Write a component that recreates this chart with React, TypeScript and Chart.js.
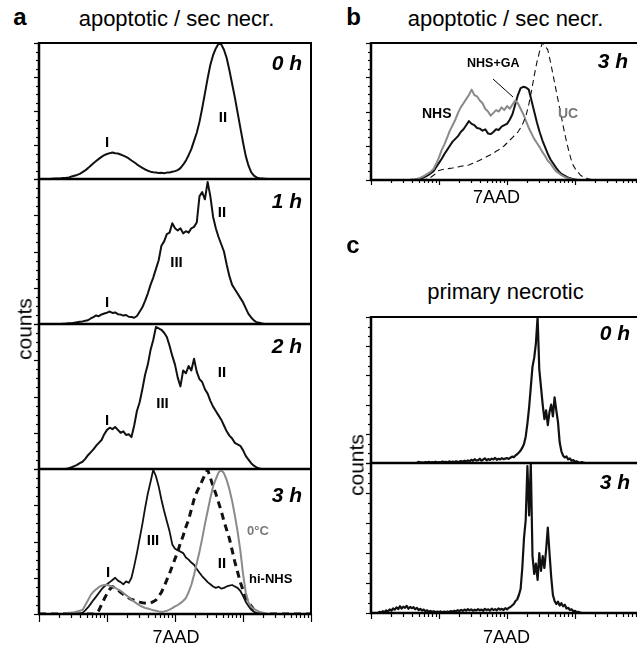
import React, { useEffect, useRef } from 'react';
import { Chart, registerables } from 'chart.js';
Chart.register(...registerables);

// 7AAD fluorescence bins (4 log decades, 1 .. 10^4)
const BINS_AB = Array.from({ length: 101 }, (_, i) => Math.pow(10, i * 0.04));
const BINS_C = Array.from({ length: 161 }, (_, i) => Math.pow(10, i * 0.025));

// Panel a – apoptotic / secondary necrotic (counts in % of full scale)
const A_0H = [
  0, 0, 0, 0, 0, 0.2, 0.3, 0.4, 0.5, 0.7,
  0.9, 1.2, 1.8, 2.4, 3.0, 3.8, 5.0, 6.3, 8.0, 9.8,
  11.6, 13.2, 14.8, 16.3, 17.5, 18.4, 19.0, 19.5, 18.9, 18.7,
  18.0, 17.2, 16.2, 15.1, 13.6, 12.3, 10.8, 9.4, 8.2, 7.0,
  6.1, 5.4, 5.0, 4.7, 4.4, 4.6, 4.3, 4.7, 4.8, 5.3,
  5.8, 6.5, 8.0, 10.5, 13.5, 17.5, 22, 28, 34, 42,
  52, 63, 74, 84, 91, 96, 99.5, 99, 95, 89,
  80, 70, 60, 49, 38, 27, 17, 10, 5, 2.5,
  1.2, 0.6, 0.4, 0.2, 0, 0, 0, 0, 0, 0,
  0, 0, 0, 0, 0, 0, 0, 0, 0, 0, 0,
];
const A_1H = [
  0, 0, 0, 0, 0, 0, 0, 0, 0, 0.2,
  0.3, 0.5, 0.6, 0.9, 1.2, 1.5, 1.8, 2.2, 2.6, 3.8,
  4.8, 5.9, 5.4, 6.6, 7.2, 7.8, 8.6, 7.6, 8.0, 6.8,
  6.5, 5.8, 6.2, 5.0, 4.8, 4.3, 5.5, 8.5, 11.5, 16,
  21, 27, 32, 38, 44, 54, 57, 62, 63, 69.5,
  66, 64.5, 66, 62.5, 64, 63, 66, 67, 70, 88,
  91, 86, 98, 88, 74, 66, 60, 55, 50, 41,
  33, 27, 24, 21, 18, 15, 11, 7, 4.5, 2.5,
  1.2, 0.8, 0.3, 0, 0, 0, 0, 0, 0, 0,
  0, 0, 0, 0, 0, 0, 0, 0, 0, 0, 0,
];
const A_2H = [
  0, 0, 0, 0, 0, 0, 0, 0, 0, 0,
  0.2, 0.5, 1.2, 2.0, 2.8, 4.0, 5.0, 7.0, 9.5, 11.5,
  13.5, 16, 18, 20, 24, 27, 28.5, 27.5, 29, 27,
  25, 26, 23.5, 24, 22, 30, 40, 46, 55, 65,
  72, 82, 89, 98, 97, 96, 94, 91, 85, 78,
  72, 63, 57, 68, 66, 71, 68, 76, 67, 62,
  60, 55, 52, 47, 43, 40, 37, 34, 30, 26,
  23, 21, 18, 17, 16, 13, 9, 6.5, 4, 2.3,
  1.0, 0.4, 0, 0, 0, 0, 0, 0, 0, 0,
  0, 0, 0, 0, 0, 0, 0, 0, 0, 0, 0,
];
const A_3H_NHS = [
  0, 0, 0, 0, 0, 0, 0, 0, 0, 0,
  0, 0, 0, 0, 0, 0.3, 0.8, 2.5, 4.5, 7,
  9.6, 12, 14.5, 17, 19, 20.5, 22, 23.5, 25, 23,
  22, 20.5, 22.5, 21.5, 25, 33, 42, 52, 62, 73,
  83, 91, 99.5, 95, 88, 79, 71, 64, 57, 48,
  45, 44, 43, 42, 39, 37.5, 35.5, 34, 31, 28.5,
  26, 24, 22, 20.5, 19, 18, 18.8, 17.5, 18, 19,
  19.5, 20, 19, 18, 16, 12.5, 8.5, 5.5, 3.0, 1.5,
  0.8, 0.4, 0, 0, 0, 0, 0, 0, 0, 0,
  0, 0, 0, 0, 0, 0, 0, 0, 0, 0, 0,
];
const A_3H_HI = [
  0, 0, 0, 0, 0, 0, 0, 0, 0, 0,
  0, 0, 0, 0, 0, 0, 0, 0, 0, 0,
  0, 0.5, 2.5, 6.5, 10.5, 14, 17, 19, 18, 16.5,
  15, 13.5, 12, 11, 10, 9.5, 8.8, 8.2, 7.8, 7.5,
  7.4, 7.6, 8.5, 9.6, 12, 15, 19, 23.5, 28, 33,
  38, 43, 49, 54, 60, 65, 72, 79, 84, 88,
  92, 96, 99.5, 94, 88, 83, 77, 71, 64, 58,
  52, 44, 36, 29, 22, 16.5, 11.5, 8, 5.5, 3,
  1.6, 0.6, 0, 0, 0, 0, 0, 0, 0, 0,
  0, 0, 0, 0, 0, 0, 0, 0, 0, 0, 0,
];
const A_3H_COLD = [
  0, 0, 0, 0, 0, 0, 0, 0, 0, 0,
  0.5, 0.8, 1.0, 1.3, 1.7, 2.2, 2.8, 6, 9.5, 13,
  15.4, 17, 18.5, 19.5, 20, 20.2, 19.5, 19, 18, 17,
  16, 14.5, 13, 11.5, 9.8, 8.5, 7.2, 6, 5, 4.2,
  3.8, 3.2, 2.6, 2.2, 1.8, 1.6, 1.8, 2.2, 3.0, 4.0,
  5.2, 6.2, 7.5, 9, 11, 15, 20, 27, 35, 43,
  52, 62, 71, 80, 88, 93, 97.5, 99.5, 97, 92.5,
  86, 78, 68, 57, 44, 28, 15, 8, 5, 3.5,
  2.5, 1.6, 1.0, 0.5, 0.2, 0, 0, 0, 0, 0,
  0, 0, 0, 0, 0, 0, 0, 0, 0, 0, 0,
];

// Panel b – 3 h, NHS / NHS+GA / UC
const B_NHS = [
  0, 0, 0, 0, 0, 0, 0, 0, 0, 0,
  0, 0, 0, 0, 0, 0.3, 0.6, 1.0, 1.5, 2.5,
  3.5, 4.8, 6.2, 8, 12, 16.5, 22, 26, 31, 36,
  40, 44, 49, 53, 56, 59, 62, 66, 62, 61,
  58, 56, 52, 50, 47, 49, 51, 50, 53, 51,
  54, 52, 55, 58, 56, 52, 48, 43, 38, 34,
  30, 27, 24, 20.5, 17.5, 14, 12, 9, 6.5, 5,
  3.5, 2.4, 1.5, 0.9, 0.4, 0, 0, 0, 0, 0,
  0, 0, 0, 0, 0, 0, 0, 0, 0, 0,
  0, 0, 0, 0, 0, 0, 0, 0, 0, 0, 0,
];
const B_NHS_GA = [
  0, 0, 0, 0, 0, 0, 0, 0, 0, 0,
  0, 0, 0, 0, 0, 0, 0, 0.3, 0.8, 1.5,
  2.5, 3.5, 5, 6.5, 9.5, 12.5, 15.5, 19, 22, 25,
  28, 30, 32, 35, 37, 40, 43, 41, 40, 38,
  37.5, 36, 37, 34, 33.5, 35, 37, 36.5, 39, 40,
  41, 44, 48, 55, 62, 67, 68, 67.5, 66, 58,
  50, 42, 35, 29, 24, 19, 15, 12, 9, 6.5,
  4.5, 3.3, 2.2, 1.4, 0.8, 0.3, 0, 0, 0, 0,
  0, 0, 0, 0, 0, 0, 0, 0, 0, 0,
  0, 0, 0, 0, 0, 0, 0, 0, 0, 0, 0,
];
const B_UC = [
  0, 0, 0, 0, 0, 0, 0, 0, 0, 0,
  0, 0, 0, 0, 0, 0, 0, 0, 0, 0,
  0.3, 1, 2, 3.5, 5, 7, 7.5, 8, 8.2, 8.5,
  8.8, 9.2, 9.5, 10, 10.3, 10.6, 11, 11.8, 12.5, 13.5,
  14.5, 15.5, 16.5, 17.5, 18.5, 19.5, 21, 22, 23.5, 25,
  27, 29, 31, 33, 35, 38, 42, 47, 55, 65,
  76, 86, 94, 100, 98, 95, 86, 76, 66, 56,
  46, 36, 27, 19, 12, 8.5, 6, 3.5, 2.4, 1.5,
  0.8, 0.3, 0, 0, 0, 0, 0, 0, 0, 0,
  0, 0, 0, 0, 0, 0, 0, 0, 0, 0, 0,
];

// Panel c – primary necrotic
const C_0H = [
  0, 0, 0, 0, 0, 0, 0, 0, 0, 0,
  0, 0, 0, 0, 0, 0, 0, 0, 0, 0,
  0, 0, 0, 0, 0, 0, 0, 0, 0.8, 0.3,
  0.5, 0.2, 0.6, 0.4, 0.8, 0.3, 0.6, 0.5, 0.9, 0.4,
  0.7, 0.5, 1.0, 0.6, 0.8, 0.5, 1.1, 0.7, 0.9, 0.6,
  1.2, 0.8, 1.0, 1.4, 0.9, 1.6, 1.1, 1.8, 1.2, 2.2,
  1.5, 2.6, 1.7, 2.0, 2.9, 1.6, 2.4, 3.2, 1.8, 2.7,
  2.1, 3.0, 2.4, 3.5, 2.2, 2.9, 2.5, 3.3, 2.6, 3.0,
  3.4, 2.8, 3.6, 4.4, 4.0, 5.2, 6.0, 7.2, 8.5, 10.5,
  13, 18, 27, 38, 52, 66, 72, 82, 100, 64,
  52, 40, 30, 36, 26, 35, 40, 32, 45, 36,
  28, 14, 8, 5, 3.8, 4.5, 2.5, 3.2, 1.5, 2.0,
  0.8, 1.2, 0.5, 0.3, 0.6, 0.2, 0, 0, 0, 0,
  0, 0, 0, 0, 0, 0, 0, 0, 0, 0,
  0, 0, 0, 0, 0, 0, 0, 0, 0, 0,
  0, 0, 0, 0, 0, 0, 0, 0, 0, 0,
  0,
];
const C_3H = [
  0, 0, 0, 0, 0, 0.8, 0.3, 1.2, 0.6, 1.8,
  1.0, 2.4, 1.5, 3.0, 2.2, 3.8, 2.6, 4.5, 3.0, 4.2,
  3.4, 4.8, 2.8, 4.0, 3.2, 3.9, 2.5, 3.4, 2.0, 2.8,
  1.6, 2.3, 1.2, 1.8, 0.9, 1.4, 0.8, 1.2, 0.6, 1.0,
  0.7, 1.1, 0.5, 0.9, 0.6, 1.0, 0.7, 1.3, 0.8, 1.5,
  1.1, 1.9, 1.2, 2.1, 1.4, 2.3, 1.6, 2.6, 1.8, 2.4,
  1.5, 2.2, 1.7, 2.6, 1.8, 2.3, 1.5, 2.8, 1.9, 2.5,
  1.6, 2.9, 2.0, 2.6, 1.8, 3.0, 2.2, 2.8, 2.0, 3.2,
  2.4, 3.4, 4.0, 5.0, 6, 8, 9, 12, 16, 30,
  50, 62, 98, 65, 100, 38, 26, 33, 22, 40,
  28, 38, 30, 42, 57, 40, 24, 12, 8, 6,
  7.5, 5, 6.5, 4.5, 5.5, 3, 3.5, 2, 2.5, 1.2,
  1.5, 0.6, 0.8, 0.3, 0, 0, 0, 0, 0, 0,
  0, 0, 0, 0, 0, 0, 0, 0, 0, 0,
  0, 0, 0, 0, 0, 0, 0, 0, 0, 0,
  0, 0, 0, 0, 0, 0, 0, 0, 0, 0,
  0,
];

const FONT = '"Liberation Sans", Arial, Helvetica, sans-serif';
const PL = 8, PR = 2, PT = 2, PB = 10;

const framePlugin = {
  id: 'frame',
  afterDraw(chart: any, _a: any, o: any) {
    const { ctx, chartArea } = chart;
    const { left, right, top, bottom } = chartArea;
    const ys = chart.scales.y;
    const xs = chart.scales.x;
    ctx.save();
    ctx.strokeStyle = '#000';
    ctx.lineWidth = 1.2;
    for (let j = 0; j <= o.yDiv; j++) {
      const v = (j * 100) / o.yDiv;
      const py = Math.round(ys.getPixelForValue(v)) + 0.5;
      const len = j % o.yPer === 0 ? o.yMaj : o.yMin;
      ctx.beginPath();
      ctx.moveTo(left - len, py);
      ctx.lineTo(left, py);
      ctx.stroke();
    }
    if (o.xMaj) {
      for (let k = 0; k <= 4; k++) {
        for (let m = 1; m <= 9; m++) {
          if (k === 4 && m > 1) break;
          const v = m * Math.pow(10, k);
          const px = Math.round(xs.getPixelForValue(v)) + 0.5;
          const len = m === 1 ? o.xMaj : o.xMin;
          ctx.beginPath();
          ctx.moveTo(px, bottom);
          ctx.lineTo(px, bottom + len);
          ctx.stroke();
        }
      }
    }
    ctx.lineWidth = 2;
    ctx.strokeRect(left, top, right - left, bottom - top);
    ctx.lineWidth = 2.5;
    ctx.beginPath();
    ctx.moveTo(left, top - 1);
    ctx.lineTo(left, bottom + 1);
    ctx.moveTo(left - 1, bottom);
    ctx.lineTo(right + 1, bottom);
    ctx.stroke();
    ctx.restore();
  },
};

type Series = { values: number[]; color: string; width: number; dash?: number[] };
type PanelProps = {
  left: number; top: number; width: number; height: number;
  bins: number[]; series: Series[];
  yDiv: number; yPer: number; yMaj: number; yMin: number;
  xMaj?: number; xMin?: number;
};

function Panel(p: PanelProps) {
  const ref = useRef<HTMLCanvasElement>(null);
  useEffect(() => {
    const chart = new Chart(ref.current as HTMLCanvasElement, {
      type: 'line',
      data: {
        datasets: p.series.map((s) => ({
          data: s.values.map((v, i) => ({ x: p.bins[i], y: v })),
          borderColor: s.color,
          borderWidth: s.width,
          borderDash: s.dash || [],
          pointRadius: 0,
          fill: false,
          tension: 0,
          borderJoinStyle: 'round' as const,
        })),
      },
      options: {
        responsive: false,
        animation: false,
        devicePixelRatio: 1,
        events: [],
        layout: { padding: { left: PL, right: PR, top: PT, bottom: PB } },
        plugins: {
          legend: { display: false },
          tooltip: { enabled: false },
          // @ts-ignore
          frame: { yDiv: p.yDiv, yPer: p.yPer, yMaj: p.yMaj, yMin: p.yMin, xMaj: p.xMaj || 0, xMin: p.xMin || 0 },
        },
        scales: {
          x: { type: 'logarithmic', min: 1, max: 10000, display: false },
          y: { type: 'linear', min: 0, max: 100, display: false },
        },
      },
      plugins: [framePlugin as any],
    } as any);
    return () => chart.destroy();
  }, []);
  return (
    <canvas
      ref={ref}
      width={p.width + PL + PR}
      height={p.height + PT + PB}
      style={{ position: 'absolute', left: p.left - PL, top: p.top - PT, display: 'block' }}
    />
  );
}

type LabelProps = {
  x: number; y: number; text: string; size: number;
  bold?: boolean; italic?: boolean; color?: string; anchor?: 'left' | 'center' | 'right';
};
function Label({ x, y, text, size, bold, italic, color, anchor = 'center' }: LabelProps) {
  const tx = anchor === 'center' ? '-50%' : anchor === 'right' ? '-100%' : '0';
  return (
    <div
      style={{
        position: 'absolute', left: x, top: y - 0.8465 * size,
        transform: `translateX(${tx})`, whiteSpace: 'nowrap',
        fontFamily: FONT, fontSize: size, lineHeight: 1,
        fontWeight: bold ? 700 : 400, fontStyle: italic ? 'italic' : 'normal',
        color: color || '#000',
      }}
    >
      {text}
    </div>
  );
}
function VLabel({ x, y, text, size }: { x: number; y: number; text: string; size: number }) {
  return (
    <div
      style={{
        position: 'absolute', left: x, top: y,
        transform: 'translate(-50%, -50%) rotate(-90deg)', whiteSpace: 'nowrap',
        fontFamily: FONT, fontSize: size, lineHeight: 1, color: '#000',
      }}
    >
      {text}
    </div>
  );
}

const BLACK = '#111';
const GRAY = '#8a8a8a';
const AY = { yDiv: 16, yPer: 4, yMaj: 5, yMin: 3 };
const CY = { yDiv: 15, yPer: 3, yMaj: 5, yMin: 3 };

export default function App() {
  const roman = 15;
  return (
    <div style={{ position: 'fixed', left: 0, top: 0, width: 637, height: 645, overflow: 'hidden', background: '#fff' }}>
      {/* panel a */}
      <Panel left={39} top={43} width={272} height={136} bins={BINS_AB} {...AY}
        series={[{ values: A_0H, color: BLACK, width: 2 }]} />
      <Panel left={39} top={179} width={272} height={145} bins={BINS_AB} {...AY}
        series={[{ values: A_1H, color: BLACK, width: 2 }]} />
      <Panel left={39} top={324} width={272} height={145} bins={BINS_AB} {...AY}
        series={[{ values: A_2H, color: BLACK, width: 2 }]} />
      <Panel left={39} top={469} width={272} height={145} bins={BINS_AB} {...AY} xMaj={8} xMin={4}
        series={[
          { values: A_3H_COLD, color: GRAY, width: 2 },
          { values: A_3H_HI, color: BLACK, width: 3, dash: [7, 5] },
          { values: A_3H_NHS, color: BLACK, width: 1.8 },
        ]} />
      {/* panel b */}
      <Panel left={371} top={43} width={272} height={137} bins={BINS_AB} {...AY} xMaj={5} xMin={3}
        series={[
          { values: B_UC, color: BLACK, width: 1.1, dash: [6, 4] },
          { values: B_NHS, color: GRAY, width: 2 },
          { values: B_NHS_GA, color: BLACK, width: 2 },
        ]} />
      {/* panel c */}
      <Panel left={371} top={317} width={272} height={146} bins={BINS_C} {...CY}
        series={[{ values: C_0H, color: BLACK, width: 2.2 }]} />
      <Panel left={371} top={463} width={272} height={150} bins={BINS_C} {...CY} xMaj={6} xMin={4}
        series={[{ values: C_3H, color: BLACK, width: 2.2 }]} />

      {/* headings */}
      <Label x={20} y={25} text="a" size={24} bold />
      <Label x={353.5} y={25} text="b" size={24} bold />
      <Label x={353} y={253} text="c" size={24} bold />
      <Label x={176.5} y={27} text="apoptotic / sec necr." size={22} />
      <Label x={505.5} y={27} text="apoptotic / sec necr." size={22} />
      <Label x={505.5} y={300} text="primary necrotic" size={22} />
      <VLabel x={24} y={329} text="counts" size={21} />
      <VLabel x={356} y={465} text="counts" size={21} />
      <Label x={176} y={643} text="7AAD" size={18} />
      <Label x={496.5} y={203} text="7AAD" size={18} />
      <Label x={506.5} y={643} text="7AAD" size={18} />

      {/* time labels */}
      <Label x={302} y={70} text="0 h" size={21} bold italic anchor="right" />
      <Label x={302} y={208} text="1 h" size={21} bold italic anchor="right" />
      <Label x={302} y={353} text="2 h" size={21} bold italic anchor="right" />
      <Label x={302} y={502} text="3 h" size={21} bold italic anchor="right" />
      <Label x={628} y={68} text="3 h" size={21} bold italic anchor="right" />
      <Label x={630} y={340} text="0 h" size={21} bold italic anchor="right" />
      <Label x={630} y={489} text="3 h" size={21} bold italic anchor="right" />

      {/* population labels, panel a */}
      <Label x={107} y={147} text="I" size={roman} bold />
      <Label x={223} y={122} text="II" size={roman} bold />
      <Label x={222} y={217} text="II" size={roman} bold />
      <Label x={176.5} y={267} text="III" size={roman} bold />
      <Label x={107} y={307} text="I" size={roman} bold />
      <Label x={222} y={377} text="II" size={roman} bold />
      <Label x={162.5} y={408} text="III" size={roman} bold />
      <Label x={107} y={425} text="I" size={roman} bold />
      <Label x={153} y={545} text="III" size={roman} bold />
      <Label x={222} y={568} text="II" size={roman} bold />
      <Label x={108} y={577} text="I" size={roman} bold />
      <Label x={247} y={535} text="0°C" size={13} bold color="#7a7a7a" anchor="left" />
      <Label x={249} y={583} text="hi-NHS" size={13} bold anchor="left" />

      {/* panel b labels */}
      <Label x={422} y={118} text="NHS" size={14} bold anchor="left" />
      <Label x={467} y={68} text="NHS+GA" size={12.5} bold anchor="left" />
      <Label x={558} y={118} text="UC" size={14} bold color="#7a7a7a" anchor="left" />
      <svg width={637} height={645} style={{ position: 'absolute', left: 0, top: 0, pointerEvents: 'none' }}>
        <line x1={493} y1={79} x2={513} y2={97} stroke="#000" strokeWidth={1} />
      </svg>
    </div>
  );
}
